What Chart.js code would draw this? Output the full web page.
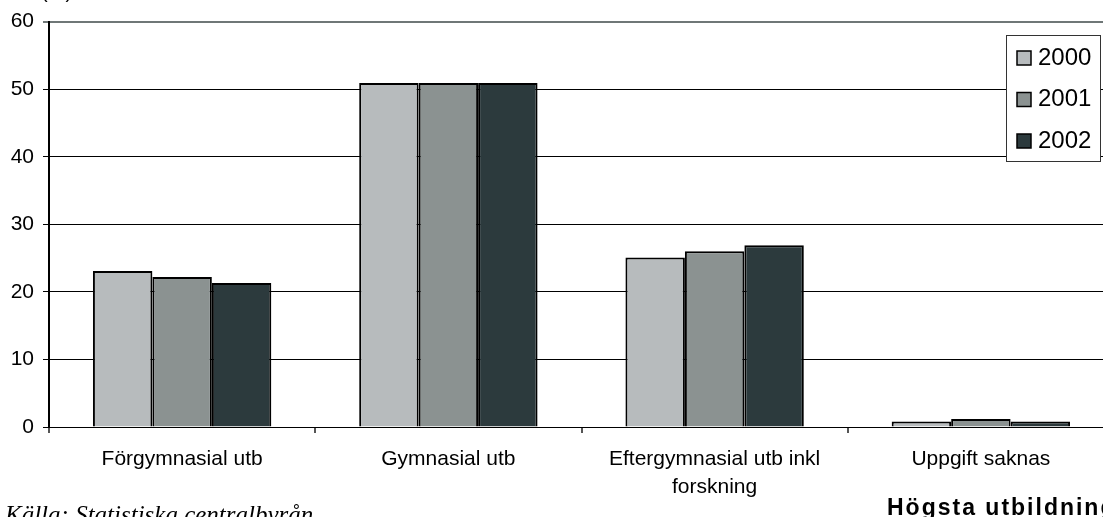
<!DOCTYPE html>
<html><head><meta charset="utf-8">
<script src="https://cdn.jsdelivr.net/npm/chart.js@4/dist/chart.umd.min.js"></script>
<style>
html,body{margin:0;padding:0;overflow:hidden;background:#fff;width:1103px;height:517px}
#wrap{position:relative;width:1130px;height:517px}
</style></head>
<body><div id="wrap"><canvas id="c"></canvas></div>
<script>
const categories = ['Förgymnasial utb', 'Gymnasial utb', ['Eftergymnasial utb inkl', 'forskning'], 'Uppgift saknas'];
const seriesNames = ['2000', '2001', '2002'];
const values2000 = [23.1, 50.9, 25.1, 0.8];
const values2001 = [22.2, 50.9, 26.0, 1.2];
const values2002 = [21.3, 50.9, 26.9, 0.8];
const yTicks = [0, 10, 20, 30, 40, 50, 60];
const axisTitle = '(%)';
const sourceText = 'Källa: Statistiska centralbyrån';
const xAxisTitle = 'Högsta utbildning';

const colors = ['#b7bbbd', '#8b9291', '#2c3a3d'];
const FONT = '"Liberation Sans", Arial, sans-serif';

const extras = {
  id: 'extras',
  afterDraw(chart) {
    const ctx = chart.ctx;
    ctx.save();
    // legend
    const bx = 1006, by = 35, bw = 94, bh = 126;
    ctx.fillStyle = '#fff';
    ctx.fillRect(bx, by, bw, bh);
    ctx.strokeStyle = '#333';
    ctx.lineWidth = 1;
    ctx.strokeRect(bx + 0.5, by + 0.5, bw, bh);
    chart.data.datasets.forEach((ds, i) => {
      const sy = 51 + i * 41.5;
      ctx.fillStyle = ds.backgroundColor;
      ctx.fillRect(1017, sy, 14, 14);
      ctx.strokeStyle = '#000';
      ctx.lineWidth = 1.5;
      ctx.strokeRect(1017, sy, 14, 14);
      ctx.fillStyle = '#000';
      ctx.font = '24px ' + FONT;
      ctx.textBaseline = 'middle';
      ctx.textAlign = 'left';
      ctx.fillText(ds.label, 1038, sy + 7);
    });
    // axis title (cut at top)
    ctx.font = '20px ' + FONT;
    ctx.textBaseline = 'alphabetic';
    ctx.fillStyle = '#000';
    ctx.fillText(axisTitle, 41, -2);
    // source
    ctx.font = 'italic 25px "Liberation Serif", "DejaVu Serif", serif';
    ctx.fillText(sourceText, 5, 523);
    // x axis title
    ctx.font = 'bold 23px ' + FONT;
    try { ctx.letterSpacing = '2px'; } catch (e) {}
    ctx.fillText(xAxisTitle, 887, 515);
    ctx.restore();
  }
};

new Chart(document.getElementById('c'), {
  type: 'bar',
  data: {
    labels: categories,
    datasets: [
      { label: seriesNames[0], data: values2000, backgroundColor: colors[0] },
      { label: seriesNames[1], data: values2001, backgroundColor: colors[1] },
      { label: seriesNames[2], data: values2002, backgroundColor: colors[2] }
    ].map(d => Object.assign(d, { borderColor: '#000', borderWidth: 2, borderSkipped: 'bottom', categoryPercentage: 0.67, barPercentage: 1.0 }))
  },
  options: {
    responsive: true,
    maintainAspectRatio: false,
    animation: false,
    devicePixelRatio: 1,
    layout: { padding: { top: 21, right: 16, left: 0, bottom: 0 } },
    plugins: { legend: { display: false }, tooltip: { enabled: false } },
    scales: {
      x: {
        afterFit(s) { s.height = 90; },
        grid: { drawOnChartArea: false, drawTicks: true, tickLength: 6, offset: true, color: '#555', lineWidth: 2 },
        border: { color: '#000', width: 1 },
        ticks: { color: '#000', font: { family: FONT, size: 21, lineHeight: 1.3 }, padding: 13, maxRotation: 0, autoSkip: false }
      },
      y: {
        min: 0, max: 60,
        afterFit(s) { s.width = 49; },
        afterBuildTicks(s) { s.ticks = yTicks.map(v => ({ value: v })); },
        grid: {
          color: c => (c.tick && c.tick.value === 60) ? '#6f7777' : '#000',
          lineWidth: c => (c.tick && c.tick.value === 60) ? 2 : 1,
          tickLength: 6
        },
        border: { color: '#000', width: 2 },
        ticks: { color: '#000', font: { family: FONT, size: 21 }, padding: 9 }
      }
    }
  },
  plugins: [extras]
});
</script>
</body></html>
